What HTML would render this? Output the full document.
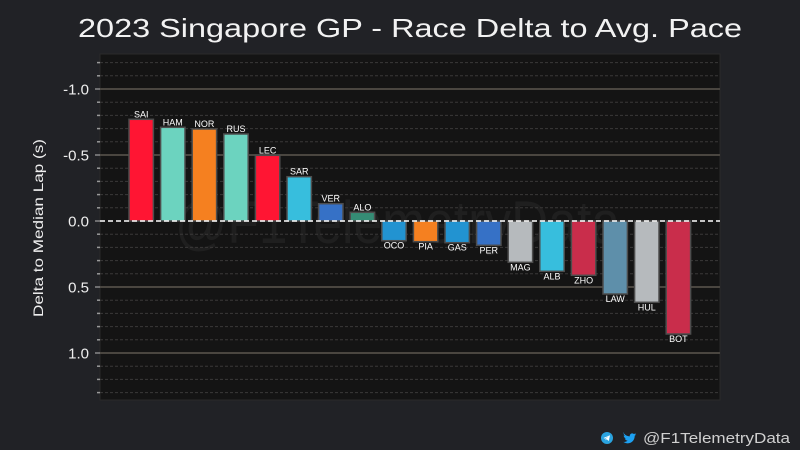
<!DOCTYPE html>
<html>
<head>
<meta charset="utf-8">
<style>
html,body{margin:0;padding:0;background:#212226;}
svg{display:block;}
text{font-family:"Liberation Sans","DejaVu Sans",sans-serif;}
</style>
</head>
<body>
<svg width="800" height="450" viewBox="0 0 800 450" xmlns="http://www.w3.org/2000/svg">
<rect x="0" y="0" width="800" height="450" fill="#212226"/>
<!-- Title -->
<text x="78" y="37" font-size="26" fill="#f2f2f2" textLength="664" lengthAdjust="spacingAndGlyphs">2023 Singapore GP - Race Delta to Avg. Pace</text>

<!-- plot area -->
<rect x="100" y="54" width="620" height="346" fill="#141414" stroke="#2a2a2a" stroke-width="1"/>

<!-- watermark -->
<text x="175" y="243" font-size="60" fill="#1f1f1f" textLength="445" lengthAdjust="spacingAndGlyphs">@F1TelemetryData</text>

<!-- minor grid -->
<g stroke="#3a3838" stroke-width="1" stroke-dasharray="3,2">
<line x1="100" x2="720" y1="62.6" y2="62.6"/>
<line x1="100" x2="720" y1="75.8" y2="75.8"/>
<line x1="100" x2="720" y1="102.2" y2="102.2"/>
<line x1="100" x2="720" y1="115.4" y2="115.4"/>
<line x1="100" x2="720" y1="128.6" y2="128.6"/>
<line x1="100" x2="720" y1="141.8" y2="141.8"/>
<line x1="100" x2="720" y1="168.2" y2="168.2"/>
<line x1="100" x2="720" y1="181.4" y2="181.4"/>
<line x1="100" x2="720" y1="194.6" y2="194.6"/>
<line x1="100" x2="720" y1="207.8" y2="207.8"/>
<line x1="100" x2="720" y1="234.2" y2="234.2"/>
<line x1="100" x2="720" y1="247.4" y2="247.4"/>
<line x1="100" x2="720" y1="260.6" y2="260.6"/>
<line x1="100" x2="720" y1="273.8" y2="273.8"/>
<line x1="100" x2="720" y1="300.2" y2="300.2"/>
<line x1="100" x2="720" y1="313.4" y2="313.4"/>
<line x1="100" x2="720" y1="326.6" y2="326.6"/>
<line x1="100" x2="720" y1="339.8" y2="339.8"/>
<line x1="100" x2="720" y1="366.2" y2="366.2"/>
<line x1="100" x2="720" y1="379.4" y2="379.4"/>
<line x1="100" x2="720" y1="392.6" y2="392.6"/>
</g>
<!-- major grid -->
<g stroke="#4a4640" stroke-width="2">
<line x1="100" x2="720" y1="89" y2="89"/>
<line x1="100" x2="720" y1="155" y2="155"/>
<line x1="100" x2="720" y1="287" y2="287"/>
<line x1="100" x2="720" y1="353" y2="353"/>
</g>

<!-- ticks -->
<g stroke="#bbbbbb" stroke-width="1">
<line x1="95" x2="100" y1="89" y2="89"/>
<line x1="95" x2="100" y1="155" y2="155"/>
<line x1="95" x2="100" y1="221" y2="221"/>
<line x1="95" x2="100" y1="287" y2="287"/>
<line x1="95" x2="100" y1="353" y2="353"/>
</g>
<g stroke="#999999" stroke-width="1.5">
<line x1="97" x2="100" y1="62.6" y2="62.6"/>
<line x1="97" x2="100" y1="75.8" y2="75.8"/>
<line x1="97" x2="100" y1="102.2" y2="102.2"/>
<line x1="97" x2="100" y1="115.4" y2="115.4"/>
<line x1="97" x2="100" y1="128.6" y2="128.6"/>
<line x1="97" x2="100" y1="141.8" y2="141.8"/>
<line x1="97" x2="100" y1="168.2" y2="168.2"/>
<line x1="97" x2="100" y1="181.4" y2="181.4"/>
<line x1="97" x2="100" y1="194.6" y2="194.6"/>
<line x1="97" x2="100" y1="207.8" y2="207.8"/>
<line x1="97" x2="100" y1="234.2" y2="234.2"/>
<line x1="97" x2="100" y1="247.4" y2="247.4"/>
<line x1="97" x2="100" y1="260.6" y2="260.6"/>
<line x1="97" x2="100" y1="273.8" y2="273.8"/>
<line x1="97" x2="100" y1="300.2" y2="300.2"/>
<line x1="97" x2="100" y1="313.4" y2="313.4"/>
<line x1="97" x2="100" y1="326.6" y2="326.6"/>
<line x1="97" x2="100" y1="339.8" y2="339.8"/>
<line x1="97" x2="100" y1="366.2" y2="366.2"/>
<line x1="97" x2="100" y1="379.4" y2="379.4"/>
<line x1="97" x2="100" y1="392.6" y2="392.6"/>
</g>

<!-- tick labels -->
<g font-size="15" fill="#eeeeee" text-anchor="end">
<text x="89" y="94.5">-1.0</text>
<text x="89" y="160.5">-0.5</text>
<text x="89" y="226.5">0.0</text>
<text x="89" y="292.5">0.5</text>
<text x="89" y="358.5">1.0</text>
</g>

<!-- y axis label -->
<text transform="translate(43,228) rotate(-90)" font-size="14" fill="#eeeeee" text-anchor="middle" textLength="178" lengthAdjust="spacingAndGlyphs">Delta to Median Lap (s)</text>

<!-- bars -->
<g stroke="#4d4d4d" stroke-width="1.5">
<rect x="129" y="119.3" width="24.4" height="101.7" fill="#ff1533"/>
<rect x="160.6" y="127.3" width="24.4" height="93.7" fill="#6cd3bf"/>
<rect x="192.2" y="129" width="24.4" height="92" fill="#f58020"/>
<rect x="223.8" y="134" width="24.4" height="87" fill="#6cd3bf"/>
<rect x="255.4" y="155.3" width="24.4" height="65.7" fill="#ff1533"/>
<rect x="287" y="176.7" width="24.4" height="44.3" fill="#37bedd"/>
<rect x="318.6" y="203.7" width="24.4" height="17.3" fill="#3671c6"/>
<rect x="350.2" y="212.3" width="24.4" height="8.7" fill="#358c75"/>
<rect x="381.8" y="221" width="24.4" height="19.7" fill="#2293d1"/>
<rect x="413.4" y="221" width="24.4" height="20.7" fill="#f58020"/>
<rect x="445" y="221" width="24.4" height="21.7" fill="#2293d1"/>
<rect x="476.6" y="221" width="24.4" height="24.3" fill="#3671c6"/>
<rect x="508.2" y="221" width="24.4" height="41.3" fill="#b6babd"/>
<rect x="539.8" y="221" width="24.4" height="50.3" fill="#37bedd"/>
<rect x="571.4" y="221" width="24.4" height="54.3" fill="#c92d4b"/>
<rect x="603" y="221" width="24.4" height="73" fill="#5e8faa"/>
<rect x="634.6" y="221" width="24.4" height="81.3" fill="#b6babd"/>
<rect x="666.2" y="221" width="24.4" height="113" fill="#c92d4b"/>
</g>

<!-- zero line -->
<line x1="100" x2="720" y1="221" y2="221" stroke="#ffffff" stroke-width="1.5" stroke-dasharray="5,3"/>

<!-- bar labels -->
<g font-size="9" fill="#ffffff" text-anchor="middle">
<text x="141.2" y="117.3">SAI</text>
<text x="172.8" y="125.3">HAM</text>
<text x="204.4" y="127">NOR</text>
<text x="236" y="132">RUS</text>
<text x="267.6" y="153.3">LEC</text>
<text x="299.2" y="174.7">SAR</text>
<text x="330.8" y="201.7">VER</text>
<text x="362.4" y="210.3">ALO</text>
<text x="394" y="248.7">OCO</text>
<text x="425.6" y="249.7">PIA</text>
<text x="457.2" y="250.7">GAS</text>
<text x="488.8" y="253.3">PER</text>
<text x="520.4" y="270.3">MAG</text>
<text x="552" y="279.3">ALB</text>
<text x="583.6" y="283.3">ZHO</text>
<text x="615.2" y="302">LAW</text>
<text x="646.8" y="310.3">HUL</text>
<text x="678.4" y="342">BOT</text>
</g>

<!-- footer -->
<circle cx="607" cy="438" r="6" fill="#2aa3df"/>
<path d="M603.5 438 L610 435.2 L608.8 441 L606.6 439.3 L605.6 440.3 L605.6 438.8 L608.8 436.3 L604.9 438.6 Z" fill="#ffffff"/>
<path d="M624 433.5 c1.5 1.8 3.5 2.8 5.8 2.9 c-0.4-2.4 2.2-4 4-2.4 c0.7-0.1 1.4-0.4 2-0.8 c-0.2 0.7-0.7 1.3-1.3 1.6 c0.6-0.1 1.2-0.2 1.7-0.5 c-0.4 0.6-0.9 1.1-1.5 1.5 c0.1 4.5-3.6 8.5-8.8 7.3 c-1-0.3-1.9-0.7-2.7-1.2 c1.6 0.2 3.2-0.3 4.4-1.3 c-1.3 0-2.4-0.9-2.8-2.1 c0.5 0.1 0.9 0.1 1.3 0 c-1.4-0.3-2.4-1.6-2.4-3 c0.4 0.2 0.9 0.4 1.3 0.4 c-1.3-0.9-1.7-2.6-1-4 Z" fill="#1da1f2"/>
<text x="643" y="443" font-size="15" fill="#d0d0d0" textLength="147" lengthAdjust="spacingAndGlyphs">@F1TelemetryData</text>
</svg>
</body>
</html>
